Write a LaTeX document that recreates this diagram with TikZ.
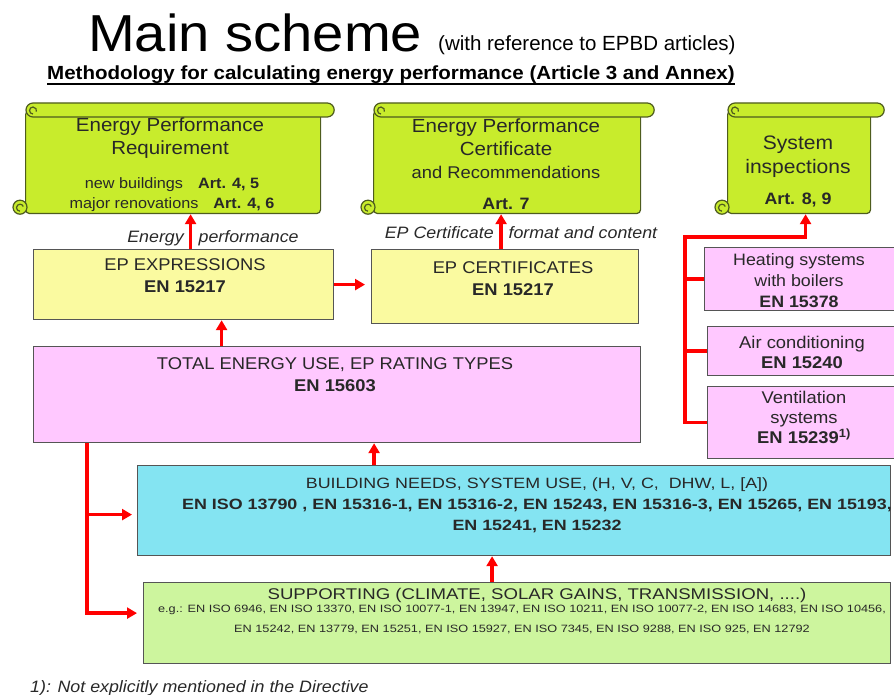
\documentclass[tikz,border=0pt]{standalone}
\usepackage{fontspec}
\setmainfont{Liberation Sans}[FakeStretch=1.08]
\newfontfamily\plainfont{Liberation Sans}
\newfontfamily\widefont{Liberation Sans}[FakeStretch=1.2]
\usetikzlibrary{arrows.meta}

\definecolor{scrollfill}{RGB}{200,236,44}
\definecolor{scrollline}{RGB}{78,92,30}
\definecolor{epyellow}{RGB}{250,250,160}
\definecolor{pinkbox}{RGB}{255,200,255}
\definecolor{cyanbox}{RGB}{132,228,242}
\definecolor{greenbox}{RGB}{205,245,158}
\definecolor{boxline}{RGB}{85,85,85}
\definecolor{textgray}{RGB}{40,40,40}

\newcommand\fs[2]{\fontsize{#1}{#2}\selectfont}

% roll on top and curls of a scroll whose body is node #1
\newcommand\scrolldeco[1]{%
  \draw[scrollrim, fill=scrollfill, rounded corners=7pt]
    ([shift={(1pt,7pt)}]#1.north west) rectangle ([shift={(13pt,-7pt)}]#1.north east);
  \draw[scrollrim] ([shift={(8pt,-4pt)}]#1.north west)
    arc[start angle=270, end angle=-20, radius=3.5pt];
  \draw[scrollrim, fill=scrollfill] ([shift={(-5pt,7pt)}]#1.south west) circle (7pt);
  \draw[scrollrim] ([shift={(-5pt,3pt)}]#1.south west)
    arc[start angle=270, end angle=20, radius=3.5pt];
}

\tikzset{
  scrollrim/.style={draw=scrollline, line width=1.2pt},
  scrollbody/.style={scrollrim, fill=scrollfill, rounded corners=4pt,
    anchor=north west, inner sep=0pt},
  box/.style={draw=boxline, line width=1.2pt, anchor=north west, inner sep=0pt},
  txt/.style={inner sep=0pt, align=center, anchor=north, text=textgray},
  redarrow/.style={draw=red, line width=3.5pt, -{Triangle[length=10pt,width=11pt]}},
  redline/.style={draw=red, line width=3.5pt},
}

\begin{document}
\begin{tikzpicture}[x=1pt,y=-1pt]
\useasboundingbox (0,0) rectangle (894,695);
\clip (0,0) rectangle (894,695);

% heading
\node[inner sep=0pt, anchor=base west, font=\fs{52}{60}] (title) at (88,52) {Main scheme};
\node[inner sep=0pt, anchor=base west, font=\plainfont\fs{20.5}{24}] (subtitle) at (438,51)
  {(with reference to EPBD articles)};
\node[inner sep=0pt, anchor=base west, font=\bfseries\fs{19}{22}] (method) at (47,80)
  {Methodology for calculating energy performance (Article 3 and Annex)};
\draw[line width=1.2pt] ([yshift=-4pt]method.base west) -- ([yshift=-4pt]method.base east);

% scrolls with the articles of the Directive
\node[scrollbody, minimum width=295pt, minimum height=103pt] (req) at (25,110) {};
\scrolldeco{req}
\node[scrollbody, minimum width=267pt, minimum height=103pt] (epc) at (373,110) {};
\scrolldeco{epc}
\node[scrollbody, minimum width=143pt, minimum height=103pt] (sys) at (727,110) {};
\scrolldeco{sys}

\node[txt, font=\fs{19}{23}] (reqhead) at (170,118) {Energy Performance\\Requirement};
\node[txt, font=\fs{15}{20.5}] (reqart) at (172,177)
  {new buildings\quad\textbf{Art. 4, 5}\\major renovations\quad\textbf{Art. 4, 6}};
\node[txt, font=\fs{19}{23}] (epchead) at (506,119) {Energy Performance\\Certificate};
\node[txt, font=\fs{17}{20}] (epcrec) at (506,166) {and Recommendations};
\node[txt, font=\bfseries\fs{16.5}{20}] (epcart) at (506,198) {Art. 7};
\node[txt, font=\fs{19.5}{24}] (syshead) at (798,136) {System\\inspections};
\node[txt, font=\bfseries\fs{16.5}{20}] (sysart) at (798,193) {Art. 8, 9};

% standards boxes
\node[box, fill=epyellow, minimum width=300pt, minimum height=70pt] (ep) at (33,249) {};
\node[box, fill=epyellow, minimum width=267pt, minimum height=74pt] (cert) at (371,249) {};
\node[box, fill=pinkbox, minimum width=607pt, minimum height=96pt] (total) at (33,346) {};
\node[box, fill=cyanbox, minimum width=753pt, minimum height=90pt] (build) at (137,465) {};
\node[box, fill=greenbox, minimum width=747pt, minimum height=81pt] (support) at (143,582) {};
\node[box, fill=pinkbox, minimum width=200pt, minimum height=63pt] (heat) at (704,247) {};
\node[box, fill=pinkbox, minimum width=200pt, minimum height=49pt] (air) at (707,326) {};
\node[box, fill=pinkbox, minimum width=200pt, minimum height=72pt] (vent) at (707,386) {};

\node[txt, font=\fs{17}{22}] (eptxt) at (185,258) {EP EXPRESSIONS\\\textbf{EN 15217}};
\node[txt, font=\fs{17}{22}] (certtxt) at (513,261) {EP CERTIFICATES\\\textbf{EN 15217}};
\node[txt, font=\fs{17}{22}] (totaltxt) at (335,357) {TOTAL ENERGY USE, EP RATING TYPES\\\textbf{EN 15603}};
\node[txt, font=\widefont\fs{14.9}{21}] (buildtxt) at (537,477)
  {BUILDING NEEDS, SYSTEM USE, (H, V, C,\ \ DHW, L, [A])\\
   \textbf{EN ISO 13790 , EN 15316-1, EN 15316-2, EN 15243, EN 15316-3, EN 15265, EN 15193,}\\
   \textbf{EN 15241, EN 15232}};
\node[txt, font=\widefont\fs{15.5}{20}] (suptxt) at (537,588)
  {SUPPORTING (CLIMATE, SOLAR GAINS, TRANSMISSION, ....)};
\node[txt, font=\widefont\fs{10.6}{19.5}] (suplist) at (522,605)
  {e.g.: EN ISO 6946, EN ISO 13370, EN ISO 10077-1, EN 13947, EN ISO 10211, EN ISO 10077-2, EN ISO 14683, EN ISO 10456,\\
   EN 15242, EN 13779, EN 15251, EN ISO 15927, EN ISO 7345, EN ISO 9288, EN ISO 925, EN 12792};
\node[txt, font=\fs{16.5}{21}] (heattxt) at (799,253) {Heating systems\\with boilers\\\textbf{EN 15378}};
\node[txt, font=\fs{17}{20}] (airtxt) at (802,336) {Air conditioning\\\textbf{EN 15240}};
\node[txt, font=\fs{17}{20}] (venttxt) at (804,391) {Ventilation\\systems\\\textbf{EN 15239\textsuperscript{1)}}};

% labels on the upward links
\node[inner sep=0pt, anchor=base, font=\itshape\fs{16.5}{20}, text=textgray] (perflabel) at (213,242)
  {Energy\ \ \ performance};
\node[inner sep=0pt, anchor=base, font=\itshape\fs{16.5}{20}, text=textgray] (certlabel) at (521,239)
  {EP Certificate\ \ \ format and content};

% footnote
\node[inner sep=0pt, anchor=base west, font=\itshape\fs{16.5}{20}, text=textgray] (foot) at (30,692)
  {1): Not explicitly mentioned in the Directive};

% links between the boxes
\draw[redarrow] ([xshift=7pt]ep.north) -- ([xshift=7pt]ep.north |- req.south);
\draw[redarrow] ([xshift=-4pt]cert.north) -- ([xshift=-4pt]cert.north |- epc.south);
\draw[redarrow, shorten >=6pt] (ep.east) -- (ep.east -| cert.west);
\draw[redarrow] ([xshift=38pt]ep.south |- total.north) -- ([xshift=38pt]ep.south);
\draw[redarrow] ([xshift=37pt]total.south |- build.north) -- ([xshift=37pt]total.south);
\draw[redarrow] ([xshift=-22pt]build.south |- support.north) -- ([xshift=-22pt]build.south);

\coordinate (split) at ([xshift=54pt]total.south west);
\draw[redarrow, shorten >=5pt] (split) |- ([yshift=-4pt]build.west);
\draw[redarrow, shorten >=6pt] (split) |- ([yshift=10pt]support.west);

\coordinate (bus) at (685,237);
\draw[redarrow] (vent.west) -| (bus) -| ([xshift=6.5pt]sys.south);
\draw[redline] (heat.west) -- (heat.west -| bus);
\draw[redline] (air.west) -- (air.west -| bus);
\end{tikzpicture}
\end{document}
